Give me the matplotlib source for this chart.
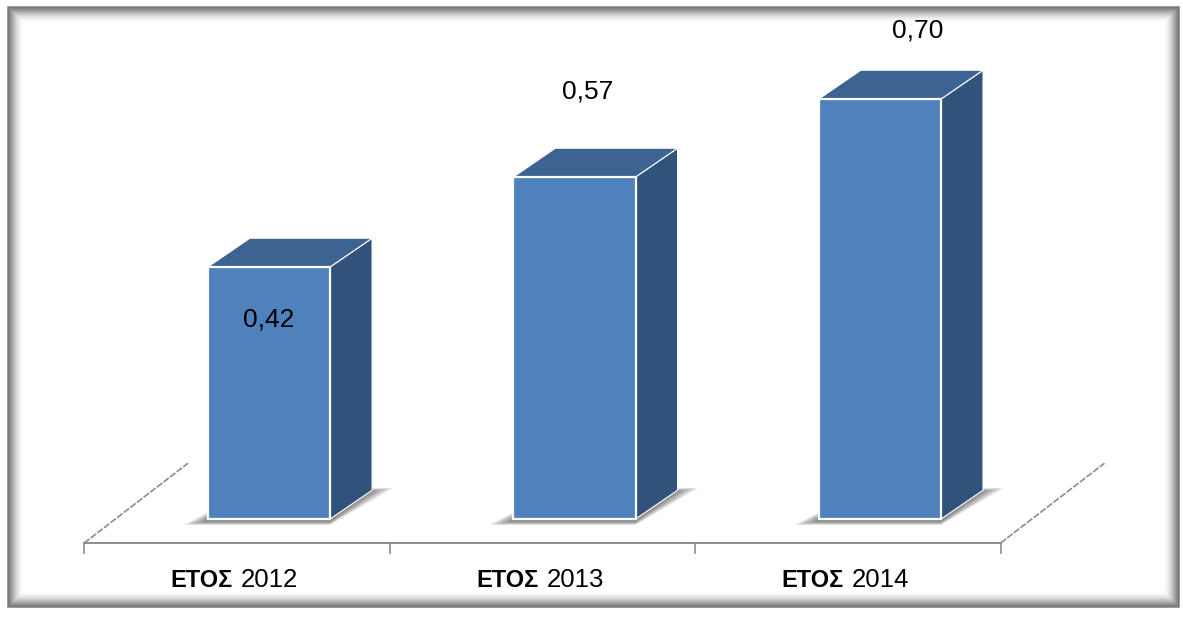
import matplotlib.pyplot as plt
from matplotlib.patches import Polygon, Rectangle

years = ['2012', '2013', '2014']
values = [0.42, 0.57, 0.70]
value_labels = ['0,42', '0,57', '0,70']

# where each value label sits relative to its bar top (category units, value units)
label_dx = [0.0, 0.044, 0.124]
label_dy = [-0.087, 0.142, 0.115]

front = '#4F81BD'
top_c = '#3C6391'
side_c = '#31527B'
grid_c = '#8C8C8C'

half_w = 0.2        # half of the bar width
ddx, ddy = 0.1375, 0.048   # 3D depth offset of bars
fdx, fdy = 0.34, 0.133     # depth of the floor
floor_y = -0.04
shift = -0.105

fig = plt.figure(figsize=(11.83, 6.17), dpi=100)
fig.patch.set_facecolor('white')

# frame with soft inner shadow, drawn in pixel coordinates
bg = fig.add_axes([0, 0, 1, 1])
bg.set_xlim(0, 1183)
bg.set_ylim(617, 0)
bg.axis('off')
x0, y0, x1, y1 = 8, 7, 1179, 607
bg.add_patch(Rectangle((x0, y0), x1 - x0, y1 - y0, facecolor='white', edgecolor='none'))
for k in range(16):
    a = 0.75 * (1 - k / 16) ** 2
    bg.add_patch(Rectangle((x0 + k, y0 + k), x1 - x0 - 2 * k, y1 - y0 - 2 * k,
                           fill=False, edgecolor='#555555', alpha=a, linewidth=1.1))

ax = fig.add_axes([0, 0, 1, 1])
ax.set_xlim(-0.8805, 2.992)
ax.set_ylim(-0.1633, 0.865)
ax.axis('off')
ax.patch.set_alpha(0)

# floor: front edge, side edges and ticks
n = len(years)
xl, xr = shift - 0.5, shift + n - 0.5
ax.plot([xl, xr], [floor_y, floor_y], color=grid_c, lw=1.4, zorder=1)
ax.plot([xl, xl + fdx], [floor_y, floor_y + fdy], color=grid_c, lw=1.2, ls=(0, (4, 1)), zorder=1)
ax.plot([xr, xr + fdx], [floor_y, floor_y + fdy], color=grid_c, lw=1.2, ls=(0, (4, 1)), zorder=1)
for k in range(n + 1):
    xt = xl + k
    ax.plot([xt, xt], [floor_y, floor_y - 0.0167], color=grid_c, lw=1.2, zorder=1)

for i, (yr, v, lab) in enumerate(zip(years, values, value_labels)):
    l, r = i - half_w, i + half_w
    # soft shadow under the bar footprint
    for k in range(7):
        g = 0.011 * k
        ax.add_patch(Polygon([(l - 0.08 + g, -0.004 - 0.006 + g * 0.08), (r, -0.004 - 0.006 + g * 0.08),
                              (r + ddx + 0.07 - g, ddy + 0.004 - g * 0.08), (l + ddx, ddy)],
                             closed=True, facecolor='#000000', alpha=0.08,
                             edgecolor='none', zorder=2))
    # side face
    ax.add_patch(Polygon([(r, 0), (r + ddx, ddy), (r + ddx, v + ddy), (r, v)],
                         closed=True, facecolor=side_c, edgecolor='white', lw=0.8, zorder=3))
    # top face
    ax.add_patch(Polygon([(l, v), (l + ddx, v + ddy), (r + ddx, v + ddy), (r, v)],
                         closed=True, facecolor=top_c, edgecolor='white', lw=0.8, zorder=3))
    # front face
    ax.add_patch(Rectangle((l, 0), 2 * half_w, v, facecolor=front,
                           edgecolor='white', lw=1.6, zorder=4))
    ax.text(i + label_dx[i], v + label_dy[i], lab, ha='center', va='center',
            fontsize=19, family='Liberation Sans', color='black', zorder=5)
    ax.text(i + shift - 0.013, -0.1017, 'ΕΤΟΣ', ha='right', va='center',
            fontsize=17, fontweight='bold', family='Liberation Sans', zorder=5)
    ax.text(i + shift + 0.013, -0.1017, yr, ha='left', va='center',
            fontsize=18.5, family='Liberation Sans', zorder=5)

fig.savefig('out.png', dpi=100, facecolor='white')
